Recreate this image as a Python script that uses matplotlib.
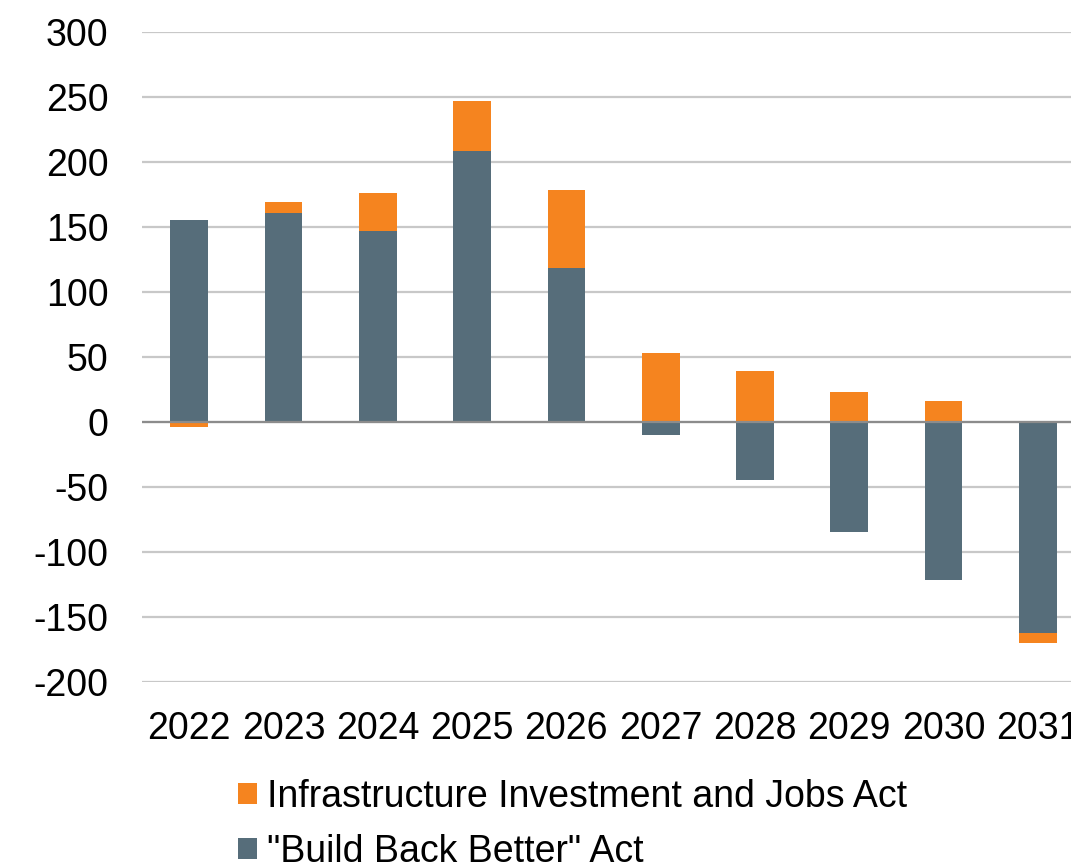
import numpy as np
import matplotlib.pyplot as plt

plt.rcParams['font.family'] = ['Liberation Sans', 'DejaVu Sans']
plt.rcParams['axes.unicode_minus'] = False

years = ['2022', '2023', '2024', '2025', '2026', '2027', '2028', '2029', '2030', '2031']
bbb = [155, 161, 147, 208.5, 118.5, -10, -45, -85, -121.5, -162]
iija = [-4, 8, 29, 38.5, 60, 53, 39, 23, 16, -8]

orange = '#F5841F'
slate = '#566D7A'

bbb = np.array(bbb)
iija = np.array(iija)
x = np.arange(len(years))

# excel style stacking: positives on positives, negatives on negatives
iija_base = np.where(iija >= 0, np.clip(bbb, 0, None), np.clip(bbb, None, 0))

fig = plt.figure(figsize=(10.71, 8.66), dpi=100)
ax = fig.add_axes([0.1326, 0.2125, 0.8805, 0.7506])

ax.bar(x, bbb, width=0.4, color=slate, label='"Build Back Better" Act', zorder=3)
ax.bar(x, iija, width=0.4, bottom=iija_base, color=orange,
       label='Infrastructure Investment and Jobs Act', zorder=3)

ax.set_xlim(-0.5, 9.5)
ax.set_ylim(-200, 300)
ax.set_yticks(np.arange(-200, 301, 50))
ax.set_xticks(x)
ax.set_xticklabels(years)
ax.tick_params(axis='both', length=0, labelsize=27)
ax.tick_params(axis='x', pad=21)
ax.tick_params(axis='y', pad=24)
ax.grid(axis='y', color='#C8C8C8', linewidth=1.6, zorder=0)
for s in ax.spines.values():
    s.set_visible(False)
ax.axhline(0, color='#8C8C8C', linewidth=1.6, zorder=4)

h, l = ax.get_legend_handles_labels()
fig.legend(h[::-1], l[::-1], loc='upper left', bbox_to_anchor=(0.222, 0.101),
           frameon=False, fontsize=27, handlelength=0.5, handleheight=0.5,
           handletextpad=0.27, labelspacing=0.52, borderpad=0, borderaxespad=0)

fig.savefig('out.png', dpi=100)
